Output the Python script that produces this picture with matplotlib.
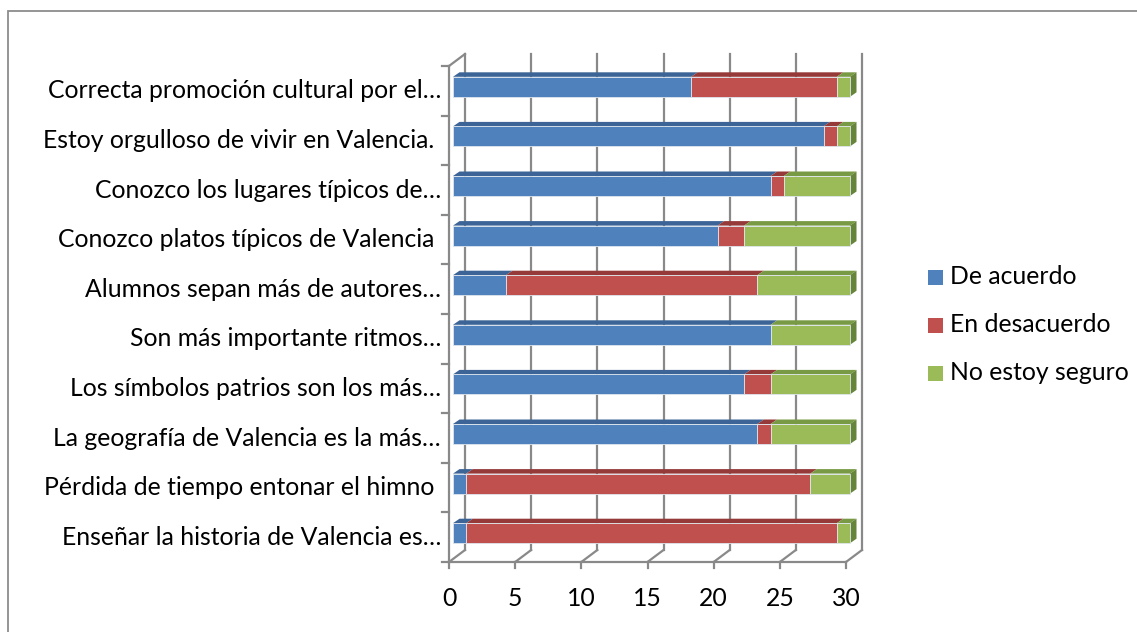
import numpy as np
import matplotlib.pyplot as plt
from matplotlib.patches import Polygon, Rectangle

# data (bottom to top, as drawn)
categorias = [
    'Enseñar la historia de Valencia es…',
    'Pérdida de tiempo entonar el himno ',
    'La geografía de Valencia es la más…',
    'Los símbolos patrios son los más…',
    'Son más importante ritmos…',
    'Alumnos sepan más de autores…',
    'Conozco platos típicos de Valencia ',
    'Conozco los lugares típicos de…',
    'Estoy orgulloso de vivir en Valencia. ',
    'Correcta promoción cultural por el…',
]
de_acuerdo = [1, 1, 23, 22, 24, 4, 20, 24, 28, 18]
en_desacuerdo = [28, 26, 1, 2, 0, 19, 2, 1, 1, 11]
no_seguro = [1, 3, 6, 6, 6, 7, 8, 5, 1, 1]
series_names = ['De acuerdo', 'En desacuerdo', 'No estoy seguro']
xticks = [0, 5, 10, 15, 20, 25, 30]

front = ['#4F81BD', '#C0504D', '#9BBB59']
top = ['#3C6496', '#953A38', '#789A44']
side = ['#34577F', '#7E302E', '#66843A']

W, H = 1137, 632
plt.rcParams['font.family'] = ['Lato', 'DejaVu Sans']
fs = 17.8

fig = plt.figure(figsize=(W / 100, H / 100), dpi=100)
fig.set_facecolor('white')

# outer frame
fig.add_artist(Rectangle((8 / W, -0.1), 1.2, 1 - 11 / H + 0.1, transform=fig.transFigure,
                         fill=False, ec='#8c8c8c', lw=1.3))

x0, x1, y0, y1 = 449, 846, 562, 66
ax = fig.add_axes([x0 / W, (H - y0) / H, (x1 - x0) / W, (y0 - y1) / H])
ax.set_xlim(0, 30)
ax.set_ylim(-0.5, 9.5)
ax.axis('off')

n = len(categorias)
yy = np.arange(n)
dw_x, dw_y = 16, 12          # depth of the walls (px)
ppx = (x1 - x0) / 30.0
ppy = (y0 - y1) / n
gc = '#898989'
glw = 1.6

def px(dx, dy):
    return dx / ppx, dy / ppy

wx, wy = px(dw_x, dw_y)
# back wall grid + floor lines
for t in xticks:
    ax.plot([t + wx, t + wx], [-0.5 + wy, 9.5 + wy], color=gc, lw=glw, clip_on=False, zorder=1)
    ax.plot([t, t + wx], [-0.5, -0.5 + wy], color=gc, lw=glw, clip_on=False, zorder=1)
    ax.plot([t, t], [-0.5, -0.5 - px(0, 6)[1]], color=gc, lw=glw, clip_on=False, zorder=1)
    ax.text(t, -0.5 - px(0, 36)[1], str(t), ha='center', va='center', fontsize=fs, clip_on=False)
# front axes
ax.plot([0, 30], [-0.5, -0.5], color=gc, lw=glw, clip_on=False, zorder=1)
ax.plot([0, 0], [-0.5, 9.5], color=gc, lw=glw, clip_on=False, zorder=1)
ax.plot([0, wx], [9.5, 9.5 + wy], color=gc, lw=glw, clip_on=False, zorder=1)
for k in range(n + 1):
    ax.plot([0, -px(7, 0)[0]], [k - 0.5, k - 0.5], color=gc, lw=glw, clip_on=False, zorder=1)

# bars with 3D look
ox, oy = px(4, 4)
bh = 20 / ppy
dx, dy = px(6.5, 4.5)
left = np.zeros(n)
for si, vals in enumerate([de_acuerdo, en_desacuerdo, no_seguro]):
    vals = np.array(vals, dtype=float)
    for i in range(n):
        if vals[i] == 0:
            continue
        l = left[i] + ox
        r = l + vals[i]
        b = yy[i] + oy - bh / 2
        t = b + bh
        ax.add_patch(Polygon([(l, t), (r, t), (r + dx, t + dy), (l + dx, t + dy)],
                             closed=True, fc=top[si], ec='none', zorder=3 + si, clip_on=False))
        if left[i] + vals[i] >= 30:
            ax.add_patch(Polygon([(r, b), (r, t), (r + dx, t + dy), (r + dx, b + dy)],
                                 closed=True, fc=side[si], ec='none', zorder=3 + si, clip_on=False))
    bars = ax.barh(yy + oy, vals, left=left + ox, height=bh, color=front[si],
                   edgecolor='#dfe6ee', linewidth=0.6, zorder=6, label=series_names[si])
    for p in bars:
        p.set_clip_on(False)
    left += vals

for i, c in enumerate(categorias):
    ax.text(-px(8, 0)[0], yy[i], c, ha='right', va='center', fontsize=fs, clip_on=False)

# legend
for si, name in enumerate(series_names):
    ly = (277 + 48 * si)
    fig.add_artist(Rectangle((928 / W, (H - ly - 7.5) / H), 15 / W, 15 / H,
                             transform=fig.transFigure, fc=front[si], ec='none'))
    fig.text(950 / W, (H - ly) / H, name, ha='left', va='center', fontsize=fs)

fig.savefig('out.png', dpi=100, facecolor='white')
